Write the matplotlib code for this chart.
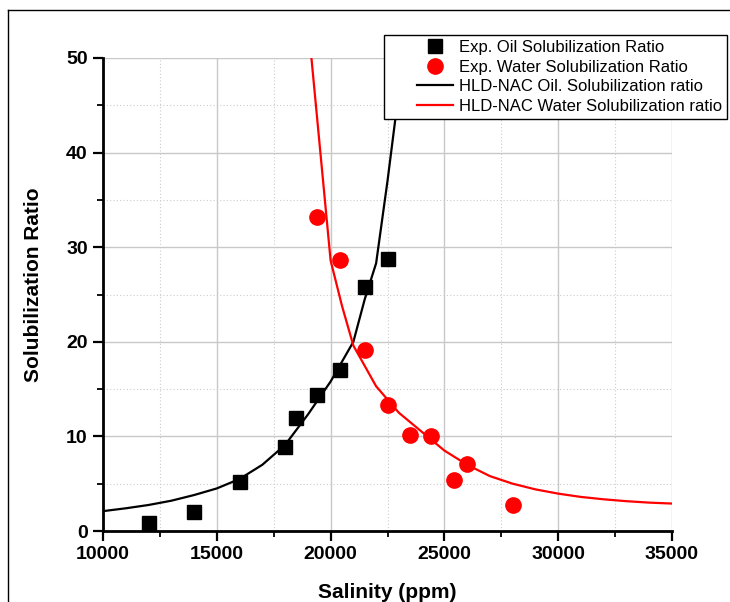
import matplotlib
matplotlib.use("Agg")
import matplotlib.pyplot as plt
from matplotlib.lines import Line2D
from matplotlib.legend_handler import HandlerLine2D
from matplotlib.ticker import MultipleLocator

plt.rcParams['font.family'] = ['Liberation Sans', 'DejaVu Sans']

# Experimental data
oil_x = [12000, 14000, 16000, 18000, 18500, 19400, 20400, 21500, 22500]
oil_y = [0.8, 2.0, 5.2, 8.9, 11.9, 14.4, 17.0, 25.8, 28.8]

water_x = [19400, 20400, 21500, 22500, 23500, 24400, 25400, 26000, 28000]
water_y = [33.2, 28.6, 19.1, 13.3, 10.1, 10.0, 5.4, 7.1, 2.7]

# HLD-NAC model curves
nac_oil_x = [10000, 11000, 12000, 13000, 14000, 15000, 16000, 17000, 18000,
             19000, 20000, 21000, 21500, 22000, 22500, 23000, 23500]
nac_oil_y = [2.1, 2.4, 2.75, 3.2, 3.8, 4.5, 5.5, 7.0, 9.1,
             12.3, 15.8, 20.0, 24.5, 28.3, 37.0, 46.5, 60.0]

nac_wat_x = [19000, 20000, 20500, 21000, 22000, 23000, 24000, 25000, 26000,
             27000, 28000, 29000, 30000, 31000, 32000, 33000, 34000, 35000]
nac_wat_y = [54.0, 28.6, 23.8, 19.6, 15.3, 12.5, 10.5, 8.5, 7.0,
             5.8, 5.0, 4.4, 3.95, 3.6, 3.35, 3.15, 3.0, 2.9]

fig = plt.figure(figsize=(7.30, 6.02), dpi=100)
ax = fig.add_axes([103/730, 1-531/602, (672-103)/730, (531-58)/602])

ax.set_xlim(10000, 35000)
ax.set_ylim(0, 50)

ax.xaxis.set_major_locator(MultipleLocator(5000))
ax.xaxis.set_minor_locator(MultipleLocator(2500))
ax.yaxis.set_major_locator(MultipleLocator(10))
ax.yaxis.set_minor_locator(MultipleLocator(5))

ax.grid(which='major', color='#c8c8c8', linewidth=1.0, linestyle='-')
ax.grid(which='minor', color='#cccccc', linewidth=0.8, linestyle=(0, (1, 2)))
ax.set_axisbelow(True)

for s in ['top', 'right']:
    ax.spines[s].set_visible(False)
for s in ['left', 'bottom']:
    ax.spines[s].set_linewidth(2.0)

ax.tick_params(which='major', direction='out', length=7, width=1.6,
               labelsize=14, pad=4)
ax.tick_params(which='minor', direction='out', length=4, width=1.3)
for lab in ax.get_xticklabels() + ax.get_yticklabels():
    lab.set_fontweight('bold')

l1, = ax.plot(oil_x, oil_y, linestyle='none', marker='s', markersize=10,
              color='black', label='Exp. Oil Solubilization Ratio', zorder=4)
l2, = ax.plot(water_x, water_y, linestyle='none', marker='o', markersize=11,
              color='#ff0000', label='Exp. Water Solubilization Ratio', zorder=4)
l3, = ax.plot(nac_oil_x, nac_oil_y, color='black', linewidth=1.6,
              label='HLD-NAC Oil. Solubilization ratio', zorder=3)
l4, = ax.plot(nac_wat_x, nac_wat_y, color='#ff0000', linewidth=1.6,
              label='HLD-NAC Water Solubilization ratio', zorder=3)

ax.set_xlabel('Salinity (ppm)', fontsize=15, fontweight='bold', labelpad=14)
ax.set_ylabel('Solubilization Ratio', fontsize=15, fontweight='bold')
ax.yaxis.set_label_coords(-0.105, 0.521)

leg = fig.legend(handles=[l1, l2, l3, l4], loc='upper right',
                 bbox_to_anchor=(727/730, 1-35/602), fontsize=12,
                 frameon=True, fancybox=False, shadow=False, edgecolor='black',
                 framealpha=1.0, handlelength=3.84, labelspacing=0.28,
                 borderpad=0.3, handletextpad=0.36, borderaxespad=0.0,
                 handler_map={Line2D: HandlerLine2D(xpad=1.68)})
leg.get_frame().set_linewidth(1.0)

# outer frame (left and top edges visible)
fig.add_artist(Line2D([8/730, 8/730], [0, 1-10/602], color='black', linewidth=1.0,
                      transform=fig.transFigure))
fig.add_artist(Line2D([8/730, 1], [1-10/602, 1-10/602], color='black', linewidth=1.0,
                      transform=fig.transFigure))

fig.savefig('out.png', dpi=100)
